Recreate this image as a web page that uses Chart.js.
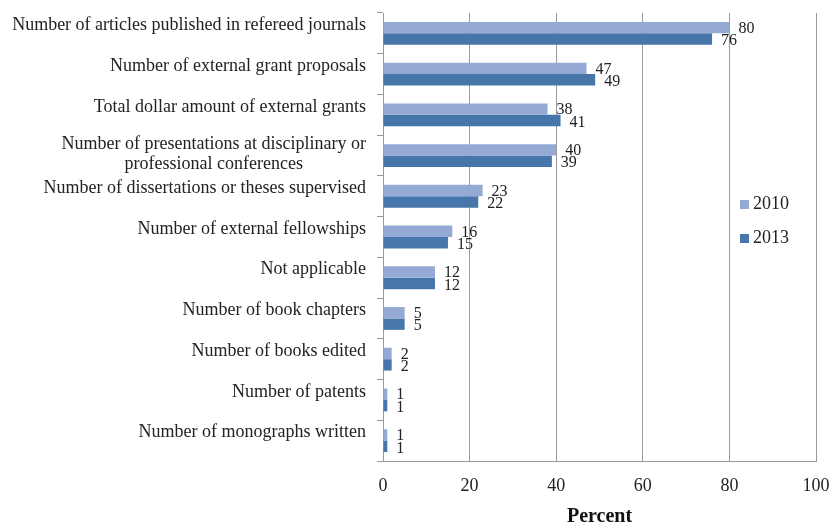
<!DOCTYPE html>
<html>
<head>
<meta charset="utf-8">
<script src="https://cdn.jsdelivr.net/npm/chart.js@4.4.1/dist/chart.umd.min.js"></script>
<style>
  html, body { margin: 0; padding: 0; background: #fff; }
  #wrap { width: 835px; height: 523px; position: relative; }
</style>
</head>
<body>
<div id="wrap"><canvas id="grafica"></canvas></div>
<script>
// Categorías (de arriba hacia abajo)
const categories = [
  ["Number of articles published in refereed journals"],
  ["Number of external grant proposals"],
  ["Total dollar amount of external grants"],
  ["Number of presentations at disciplinary or", "professional conferences"],
  ["Number of dissertations or theses supervised"],
  ["Number of external fellowships"],
  ["Not applicable"],
  ["Number of book chapters"],
  ["Number of books edited"],
  ["Number of patents"],
  ["Number of monographs written"]
];

// Valores en porcentaje
const values2010 = [80, 47, 38, 40, 23, 16, 12, 5, 2, 1, 1];
const values2013 = [76, 49, 41, 39, 22, 15, 12, 5, 2, 1, 1];

const seriesNames = ["2010", "2013"];
const xTicks = [0, 20, 40, 60, 80, 100];

const LIGHT = "#94A9D3";
const DARK = "#4676AA";
const GRID = "#9A9A9A";
const FONT = "'Liberation Serif', 'Times New Roman', serif";

// Etiquetas de categoría dibujadas a mano (líneas centradas como en Excel)
const categoryLabels = {
  id: "categoryLabels",
  afterDraw(chart) {
    const ctx = chart.ctx;
    const y = chart.scales.y;
    ctx.save();
    ctx.font = "18px " + FONT;
    ctx.fillStyle = "#222";
    ctx.textBaseline = "middle";
    ctx.textAlign = "center";
    const right = y.left + y.width - 17;
    categories.forEach((lines, i) => {
      const cy = y.getPixelForValue(i);
      const widest = Math.max(...lines.map(l => ctx.measureText(l).width));
      const cx = right - widest / 2;
      if (lines.length === 1) {
        ctx.fillText(lines[0], cx, cy - 8);
      } else {
        const lh = 20;
        lines.forEach((l, k) => {
          ctx.fillText(l, cx, cy - lh * (lines.length - 1) / 2 + k * lh - 1);
        });
      }
    });
    ctx.restore();
  }
};

// Valores al final de cada barra
const valueLabels = {
  id: "valueLabels",
  afterDatasetsDraw(chart) {
    const ctx = chart.ctx;
    ctx.save();
    ctx.font = "16px " + FONT;
    ctx.fillStyle = "#222";
    ctx.textBaseline = "middle";
    ctx.textAlign = "left";
    chart.data.datasets.forEach((ds, di) => {
      chart.getDatasetMeta(di).data.forEach((bar, i) => {
        ctx.fillText(String(ds.data[i]), bar.x + 9, bar.y + (di === 0 ? 1 : 2));
      });
    });
    ctx.restore();
  }
};

// Leyenda dentro del área del gráfico, a la derecha
const sideLegend = {
  id: "sideLegend",
  afterDraw(chart) {
    const ctx = chart.ctx;
    ctx.save();
    ctx.font = "18px " + FONT;
    ctx.textBaseline = "middle";
    ctx.textAlign = "left";
    chart.data.datasets.forEach((ds, i) => {
      const yy = 204 + i * 34;
      ctx.fillStyle = ds.backgroundColor;
      ctx.fillRect(740, yy - 4, 9, 9);
      ctx.fillStyle = "#222";
      ctx.fillText(ds.label, 753, yy);
    });
    ctx.restore();
  }
};

const chart = new Chart(document.getElementById("grafica"), {
  type: "bar",
  data: {
    labels: categories.map(c => c.join(" ")),
    datasets: [
      { label: seriesNames[0], data: values2010, backgroundColor: LIGHT },
      { label: seriesNames[1], data: values2013, backgroundColor: DARK }
    ]
  },
  options: {
    indexAxis: "y",
    responsive: true,
    maintainAspectRatio: false,
    animation: false,
    layout: { padding: { top: 13, right: 19, left: 0, bottom: 0 } },
    datasets: {
      bar: { categoryPercentage: 0.56, barPercentage: 1.0 }
    },
    plugins: {
      legend: { display: false },
      tooltip: { enabled: false }
    },
    scales: {
      x: {
        min: 0,
        max: 100,
        afterBuildTicks: (scale) => { scale.ticks = xTicks.map(v => ({ value: v })); },
        afterFit: (scale) => {
          scale.height = 62;
          scale.paddingRight = 0;
        },
        grid: { color: GRID, drawTicks: false },
        border: { color: GRID },
        ticks: {
          padding: 14,
          color: "#222",
          font: { family: FONT, size: 18 }
        },
        title: {
          display: true,
          text: "Percent",
          color: "#111",
          padding: { top: 0, bottom: -6 },
          font: { family: FONT, size: 20, weight: "bold" }
        }
      },
      y: {
        afterFit: (scale) => { scale.width = 383; },
        grid: { offset: true, drawOnChartArea: false, color: GRID, tickLength: 6 },
        border: { color: GRID },
        ticks: { display: false }
      }
    }
  },
  plugins: [categoryLabels, valueLabels, sideLegend]
});
</script>
</body>
</html>
